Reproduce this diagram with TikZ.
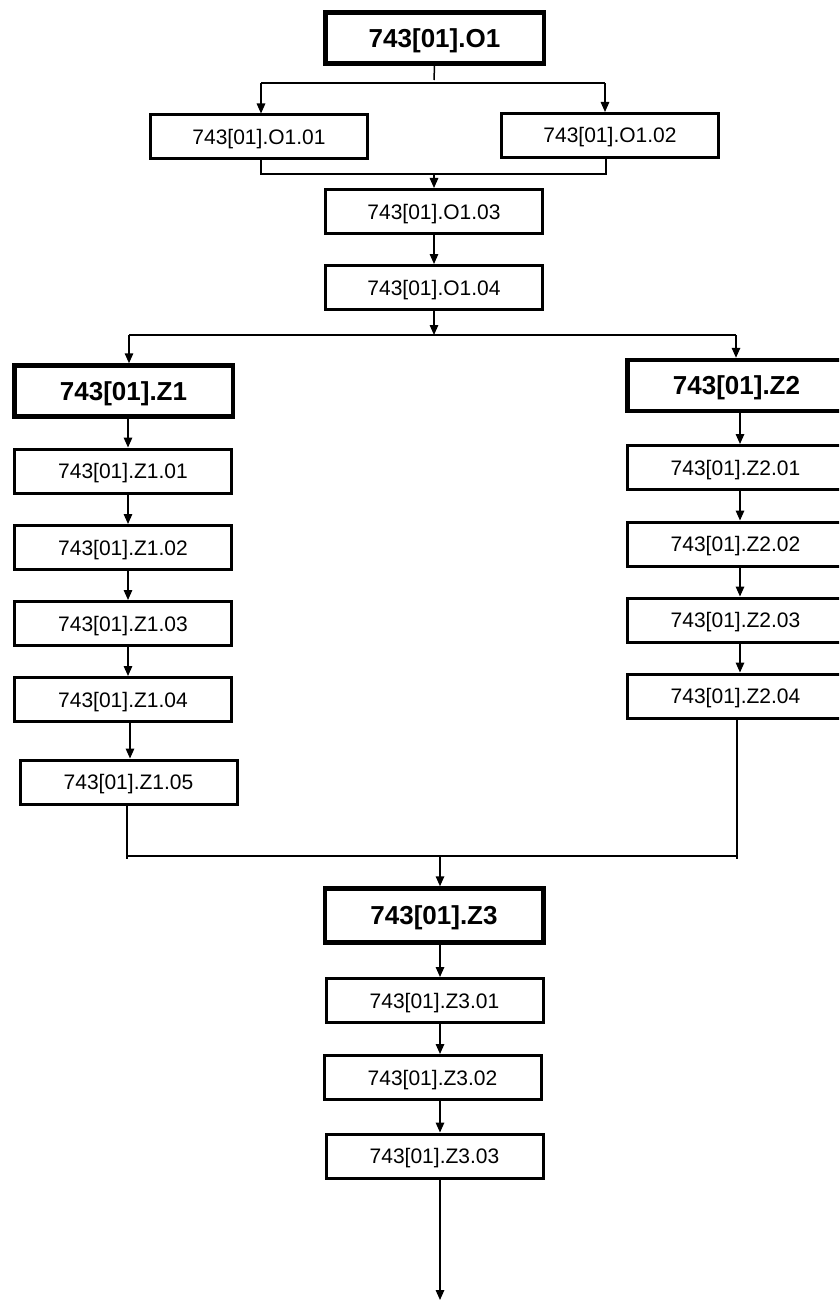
\documentclass[tikz,border=0pt]{standalone}
\usepackage{fontspec}
\setmainfont{Liberation Sans}
\usetikzlibrary{arrows.meta}
\begin{document}
\begin{tikzpicture}[x=1pt,y=-1pt,
  box/.style={draw, line width=3pt, minimum width=217pt, minimum height=44pt, inner sep=0pt, text height=15pt, text depth=0pt, fill=white, font=\fontsize{21}{25}\selectfont},
  head/.style={draw, line width=4.5pt, minimum width=218.5pt, minimum height=51pt, inner sep=0pt, text height=18.5pt, text depth=0pt, fill=white, font=\bfseries\fontsize{26}{30}\selectfont},
  ln/.style={line width=1.5pt},
  arr/.style={line width=1.5pt, -{Triangle[length=10pt,width=8.5pt]}}]
\useasboundingbox (0,0) rectangle (839,1300);
\clip (0,0) rectangle (839,1300);
% top part
\node[head] (O1) at (434.5,38) {743[01].O1};
\node[box] (O101) at (259,137) {743[01].O1.01};
\node[box] (O102) at (610,135.5) {743[01].O1.02};
\node[box] (O103) at (434,211.5) {743[01].O1.03};
\node[box] (O104) at (434,287.5) {743[01].O1.04};
% left branch
\node[head] (Z1) at (123.5,391) {743[01].Z1};
\node[box] (Z101) at (123,471) {743[01].Z1.01};
\node[box] (Z102) at (123,547.5) {743[01].Z1.02};
\node[box] (Z103) at (123,623.5) {743[01].Z1.03};
\node[box] (Z104) at (123,699.5) {743[01].Z1.04};
\node[box] (Z105) at (128.5,782) {743[01].Z1.05};
% right branch
\node[head] (Z2) at (736.5,385.5) {743[01].Z2};
\node[box] (Z201) at (735.5,467.5) {743[01].Z2.01};
\node[box] (Z202) at (735.5,544) {743[01].Z2.02};
\node[box] (Z203) at (735.5,620) {743[01].Z2.03};
\node[box] (Z204) at (735.5,696) {743[01].Z2.04};
% bottom part
\node[head, minimum height=54pt] (Z3) at (434,915.5) {743[01].Z3};
\node[box] (Z301) at (434.5,1000.5) {743[01].Z3.01};
\node[box] (Z302) at (432.5,1077.5) {743[01].Z3.02};
\node[box] (Z303) at (434.5,1156) {743[01].Z3.03};
% coordinates
\coordinate (t1) at (434,80);
\coordinate (hL) at (261,83);
\coordinate (hR) at (605,83);
\coordinate (mL) at (261,174);
\coordinate (mR) at (606,174);
\coordinate (m) at (434,174);
\coordinate (s) at (434,335);
\coordinate (sL) at (129,335);
\coordinate (sR) at (736,335);
\coordinate (c1) at (128,0);
\coordinate (c1b) at (130,0);
\coordinate (c2) at (740,0);
\coordinate (jL) at (127,856);
\coordinate (jR) at (736,856);
\coordinate (jLe) at (127,859);
\coordinate (jRe) at (737,859);
\coordinate (j) at (440,856);
\coordinate (c3) at (440,0);
\coordinate (end) at (440,1300);
% connectors top
\draw[ln] (O1.south) -- (t1);
\draw[ln] (hL) -- (hR);
\draw[arr] (hL) -- (hL |- O101.north);
\draw[arr] (hR) -- (hR |- O102.north);
\draw[ln] (O101.south -| mL) -- (mL) -- (mR) -- (O102.south -| mR);
\draw[arr] (m) -- (O103.north);
\draw[arr] (O103.south) -- (O104.north);
\draw[arr] (O104.south) -- (s);
\draw[ln] (sL) -- (sR);
\draw[arr] (sL) -- (sL |- Z1.north);
\draw[arr] (sR) -- (sR |- Z2.north);
% left chain
\draw[arr] (Z1.south -| c1) -- (Z101.north -| c1);
\draw[arr] (Z101.south -| c1) -- (Z102.north -| c1);
\draw[arr] (Z102.south -| c1) -- (Z103.north -| c1);
\draw[arr] (Z103.south -| c1) -- (Z104.north -| c1);
\draw[arr] (Z104.south -| c1b) -- (Z105.north -| c1b);
% right chain
\draw[arr] (Z2.south -| c2) -- (Z201.north -| c2);
\draw[arr] (Z201.south -| c2) -- (Z202.north -| c2);
\draw[arr] (Z202.south -| c2) -- (Z203.north -| c2);
\draw[arr] (Z203.south -| c2) -- (Z204.north -| c2);
% join
\draw[ln] (Z105.south -| jLe) -- (jLe);
\draw[ln] (Z204.south -| jRe) -- (jRe);
\draw[ln] (jL) -- (jR);
\draw[arr] (j) -- (Z3.north -| j);
% bottom chain
\draw[arr] (Z3.south -| c3) -- (Z301.north -| c3);
\draw[arr] (Z301.south -| c3) -- (Z302.north -| c3);
\draw[arr] (Z302.south -| c3) -- (Z303.north -| c3);
\draw[arr] (Z303.south -| c3) -- (end);
\end{tikzpicture}
\end{document}
